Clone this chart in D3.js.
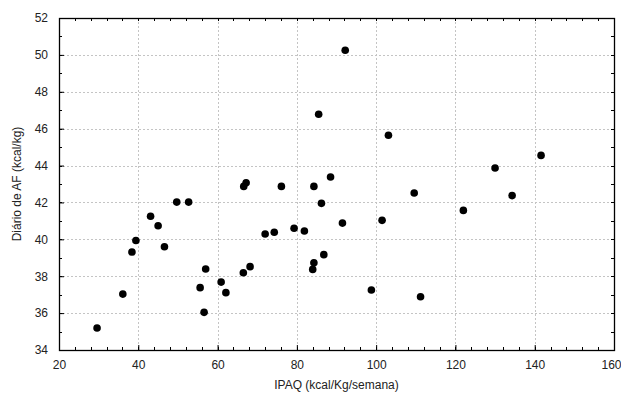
<!DOCTYPE html>
<html>
<head>
<meta charset="utf-8">
<script src="https://cdn.jsdelivr.net/npm/d3@7"></script>
<style>
  body { margin: 0; background: #fff; }
  text { font-family: "Liberation Sans", Arial, sans-serif; fill: #222; }
</style>
</head>
<body>
<div id="chart"></div>
<script>
// IPAQ (kcal/Kg/semana) vs Diário de AF (kcal/kg)
var ipaq = [29.6, 36.1, 38.4, 39.4, 43.1, 45.0, 46.6, 49.7, 52.7, 57.0,
            55.6, 56.6, 60.9, 62.1, 66.5, 68.2, 72.0, 74.3, 79.3, 81.9,
            86.2, 91.5, 101.5, 84.0, 84.3, 86.8, 98.8, 111.2, 122.0, 92.2,
            85.5, 103.1, 66.6, 67.2, 76.1, 84.3, 88.5, 109.6, 130.0, 141.6,
            134.3];
var diario = [35.19, 37.03, 39.31, 39.94, 41.25, 40.74, 39.60, 42.02, 42.02, 38.39,
              37.38, 36.04, 37.68, 37.11, 38.19, 38.52, 40.29, 40.38, 40.60, 40.45,
              41.95, 40.88, 41.03, 38.37, 38.73, 39.17, 37.25, 36.89, 41.57, 50.25,
              46.78, 45.64, 42.87, 43.07, 42.87, 42.87, 43.38, 42.51, 43.87, 44.55,
              42.37];
var xTicks = [20, 40, 60, 80, 100, 120, 140, 160];
var yTicks = [34, 36, 38, 40, 42, 44, 46, 48, 50, 52];

var width = 621, height = 396;
var pLeft = 59, pRight = 614, pTop = 18, pBottom = 350;

var svg = d3.select("#chart")
  .append("svg")
  .attr("width", width)
  .attr("height", height);

var x = d3.scaleLinear().domain([20, 160]).range([pLeft, pRight]);
var y = d3.scaleLinear().domain([34, 52]).range([pBottom, pTop]);

function px(v) { return Math.round(v) + 0.5; }

// dotted grid
var grid = svg.append("g")
  .attr("stroke", "#c4c4c4")
  .attr("stroke-width", 1)
  .attr("stroke-dasharray", "2,2");

grid.selectAll(".gx")
  .data(xTicks.slice(1, -1))
  .enter()
  .append("line")
  .attr("x1", function (d) { return px(x(d)); })
  .attr("x2", function (d) { return px(x(d)); })
  .attr("y1", pTop)
  .attr("y2", pBottom);

grid.selectAll(".gy")
  .data(yTicks.slice(1, -1))
  .enter()
  .append("line")
  .attr("y1", function (d) { return px(y(d)); })
  .attr("y2", function (d) { return px(y(d)); })
  .attr("x1", pLeft)
  .attr("x2", pRight);

// axes (inward ticks)
var xMinor = d3.range(20, 160.1, 4);
var yMinor = d3.range(34, 52.1, 1);

svg.append("g")
  .attr("transform", "translate(0," + pBottom + ")")
  .call(d3.axisBottom(x).tickValues(xTicks).tickSize(-5).tickPadding(10).tickFormat(d3.format("d")))
  .call(function (g) { g.select(".domain").remove(); })
  .call(function (g) {
    g.selectAll("text").attr("font-size", 12).attr("fill", "#222");
    // keep the last label inside the window
    g.selectAll("text").filter(function (d) { return d === 160; }).attr("dx", -3);
  });

svg.append("g")
  .attr("transform", "translate(" + pLeft + ",0)")
  .call(d3.axisLeft(y).tickValues(yTicks).tickSize(-5).tickPadding(11).tickFormat(d3.format("d")))
  .call(function (g) { g.select(".domain").remove(); })
  .call(function (g) { g.selectAll("text").attr("font-size", 12).attr("fill", "#222"); });

var ticks = svg.append("g").attr("stroke", "#000").attr("stroke-width", 1);

// minor ticks on all four sides
ticks.selectAll(".mb").data(xMinor).enter().append("line")
  .attr("x1", function (d) { return px(x(d)); })
  .attr("x2", function (d) { return px(x(d)); })
  .attr("y1", pBottom).attr("y2", pBottom - 3);
ticks.selectAll(".mt").data(xMinor).enter().append("line")
  .attr("x1", function (d) { return px(x(d)); })
  .attr("x2", function (d) { return px(x(d)); })
  .attr("y1", pTop).attr("y2", pTop + 3);
ticks.selectAll(".ml").data(yMinor).enter().append("line")
  .attr("y1", function (d) { return px(y(d)); })
  .attr("y2", function (d) { return px(y(d)); })
  .attr("x1", pLeft).attr("x2", pLeft + 3);
ticks.selectAll(".mr").data(yMinor).enter().append("line")
  .attr("y1", function (d) { return px(y(d)); })
  .attr("y2", function (d) { return px(y(d)); })
  .attr("x1", pRight).attr("x2", pRight - 3);

// frame
svg.append("rect")
  .attr("x", pLeft + 0.5)
  .attr("y", pTop + 0.5)
  .attr("width", pRight - pLeft)
  .attr("height", pBottom - pTop)
  .attr("fill", "none")
  .attr("stroke", "#000")
  .attr("stroke-width", 1.3);

// points
svg.append("g")
  .selectAll("circle")
  .data(ipaq)
  .enter()
  .append("circle")
  .attr("cx", function (d) { return x(d); })
  .attr("cy", function (d, i) { return y(diario[i]); })
  .attr("r", 3.8)
  .attr("fill", "#000");

// axis titles
svg.append("text")
  .attr("x", (pLeft + pRight) / 2)
  .attr("y", 389)
  .attr("text-anchor", "middle")
  .attr("font-size", 12)
  .text("IPAQ (kcal/Kg/semana)");

svg.append("text")
  .attr("transform", "translate(21," + (pTop + pBottom) / 2 + ") rotate(-90)")
  .attr("text-anchor", "middle")
  .attr("font-size", 12)
  .text("Diário de AF (kcal/kg)");
</script>
</body>
</html>
